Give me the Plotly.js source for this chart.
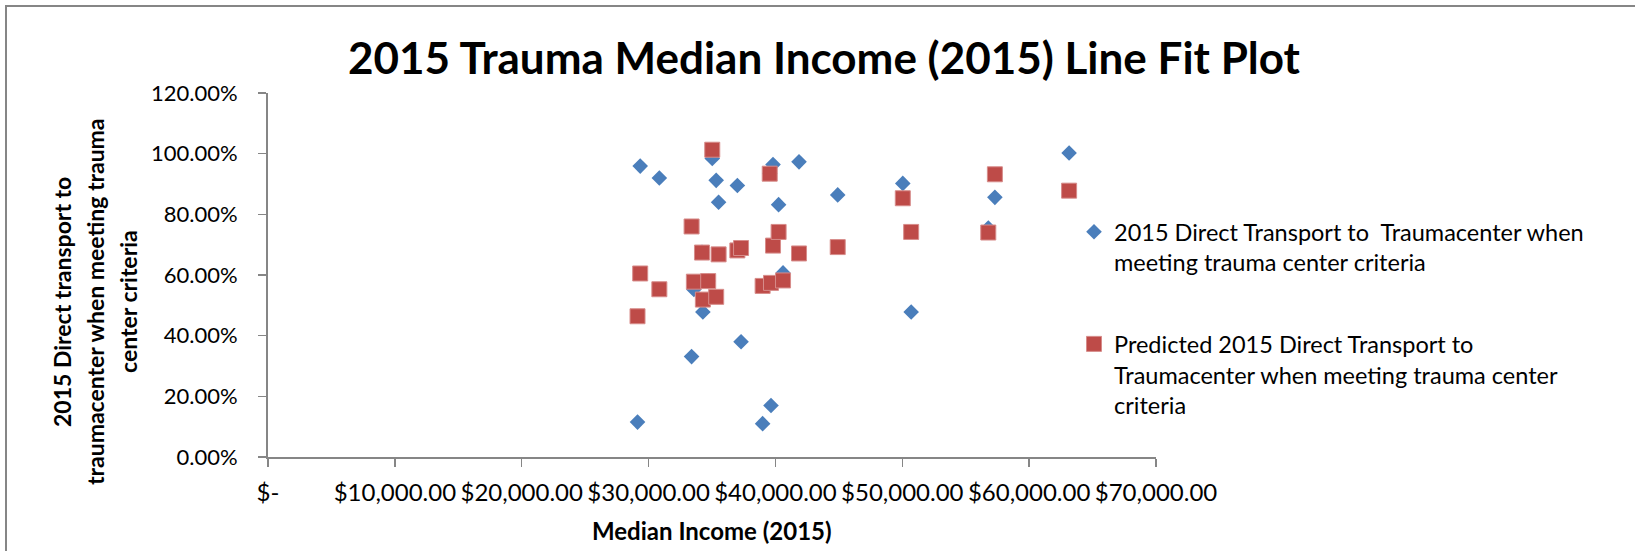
<!DOCTYPE html>
<html>
<head>
<meta charset="utf-8">
<script src="https://cdn.plot.ly/plotly-3.0.1.min.js"></script>
<style>
  html, body { margin: 0; padding: 0; background: #fff; }
  #chart { width: 1635px; height: 551px; }
</style>
</head>
<body>
<div id="chart"></div>
<script>
// ---- Data ----
const medianIncome = [29130, 29340, 30850, 33390, 33570, 34210, 34280, 34700, 35020, 35330,
                      35520, 37000, 37290, 38990, 39550, 39650, 39810, 40250, 40600, 41860,
                      44910, 50040, 50700, 56780, 57300, 63150];
const actualTransport = [0.115, 0.959, 0.920, 0.331, 0.552, 0.675, 0.478, 0.580, 0.984, 0.912,
                         0.840, 0.895, 0.380, 0.110, 0.935, 0.170, 0.964, 0.832, 0.607, 0.973,
                         0.864, 0.902, 0.478, 0.755, 0.856, 1.002];
const predictedTransport = [0.464, 0.605, 0.553, 0.760, 0.578, 0.674, 0.519, 0.580, 1.013, 0.528,
                            0.668, 0.681, 0.689, 0.564, 0.934, 0.574, 0.697, 0.742, 0.582, 0.671,
                            0.692, 0.853, 0.742, 0.740, 0.932, 0.878];
const xTickVals = [0, 10000, 20000, 30000, 40000, 50000, 60000, 70000];
const xTickLabels = ['$-', '$10,000.00', '$20,000.00', '$30,000.00', '$40,000.00',
                     '$50,000.00', '$60,000.00', '$70,000.00'];
const seriesNames = [
  '2015 Direct Transport to \u00a0Traumacenter when<br>meeting trauma center criteria',
  'Predicted 2015 Direct Transport to<br>Traumacenter when meeting trauma center<br>criteria'
];
const chartTitle = '2015 Trauma Median Income (2015) Line Fit Plot';
const xTitle = 'Median Income (2015)';
const yTitleLines = ['2015 Direct transport to', 'traumacenter when meeting trauma', 'center criteria'];

// ---- Layout geometry (pixels) ----
const W = 1635, H = 551;
const M = { l: 268, r: 479, t: 93, b: 94 };
const PW = W - M.l - M.r, PH = H - M.t - M.b;
const px2x = p => (p - M.l) / PW;
const px2y = p => (H - M.b - p) / PH;

const FONT = 'Lato, "Open Sans", sans-serif';
const AXIS_GREY = '#868686';

const traces = [
  {
    type: 'scatter', mode: 'markers',
    x: medianIncome, y: actualTransport,
    name: seriesNames[0], legendgroup: 'a',
    marker: { symbol: 'diamond', size: 12, color: '#4A7EBB', line: { width: 0 } },
    hoverinfo: 'x+y'
  },
  {
    type: 'scatter', mode: 'markers',
    x: medianIncome, y: predictedTransport,
    name: seriesNames[1], legendgroup: 'b',
    marker: { symbol: 'square', size: 15, color: '#BE4B48', line: { width: 1, color: '#D78C8A' } },
    hoverinfo: 'x+y'
  }
];

const yTitleX = [62, 95, 128];
const annotations = yTitleLines.map((t, i) => ({
  text: t, xref: 'paper', yref: 'paper',
  x: px2x(yTitleX[i]), y: px2y(302),
  xanchor: 'center', yanchor: 'middle', textangle: -90, showarrow: false,
  font: { family: FONT, size: 23, color: '#000', weight: 'bold' }
}));
annotations.push({
  text: xTitle, xref: 'paper', yref: 'paper',
  x: px2x(712), y: px2y(530), xanchor: 'center', yanchor: 'middle', showarrow: false,
  font: { family: FONT, size: 24, color: '#000', weight: 'bold' }
});

const layout = {
  width: W, height: H,
  margin: M,
  paper_bgcolor: '#fff', plot_bgcolor: '#fff',
  font: { family: FONT, color: '#000' },
  title: {
    text: chartTitle, xref: 'container', yref: 'container',
    x: 824 / W, y: 1 - 59 / H, xanchor: 'center', yanchor: 'middle',
    font: { family: FONT, size: 44, color: '#000', weight: 'bold' }
  },
  xaxis: {
    range: [0, 70000], tickmode: 'array', tickvals: xTickVals, ticktext: xTickLabels,
    tickangle: 0,
    showgrid: false, zeroline: false, showline: true, linecolor: AXIS_GREY, linewidth: 2,
    ticks: 'outside', ticklen: 8, tickwidth: 1.5, tickcolor: AXIS_GREY,
    tickfont: { family: FONT, size: 24, color: '#000' }, ticklabelstandoff: 5,
    fixedrange: true
  },
  yaxis: {
    range: [0, 1.2], dtick: 0.2, tick0: 0, tickformat: '.2%',
    showgrid: false, zeroline: false, showline: true, linecolor: AXIS_GREY, linewidth: 2,
    ticks: 'outside', ticklen: 8, tickwidth: 1.5, tickcolor: AXIS_GREY,
    tickfont: { family: FONT, size: 22, color: '#000' }, ticklabelstandoff: 16,
    fixedrange: true
  },
  showlegend: true,
  legend: {
    x: px2x(1074), y: px2y(210), xanchor: 'left', yanchor: 'top',
    xref: 'paper', yref: 'paper',
    font: { family: FONT, size: 23.5, color: '#000' },
    valign: 'top', tracegroupgap: 48, itemwidth: 30,
    bgcolor: 'rgba(0,0,0,0)', borderwidth: 0
  },
  annotations: annotations,
  shapes: [
    { type: 'line', xref: 'paper', yref: 'paper', x0: px2x(5), x1: px2x(W), y0: px2y(6), y1: px2y(6),
      line: { color: AXIS_GREY, width: 2 } },
    { type: 'line', xref: 'paper', yref: 'paper', x0: px2x(6), x1: px2x(6), y0: px2y(5), y1: px2y(H),
      line: { color: AXIS_GREY, width: 2 } }
  ]
};

Plotly.newPlot('chart', traces, layout, { displayModeBar: false, staticPlot: true });
</script>
</body>
</html>
